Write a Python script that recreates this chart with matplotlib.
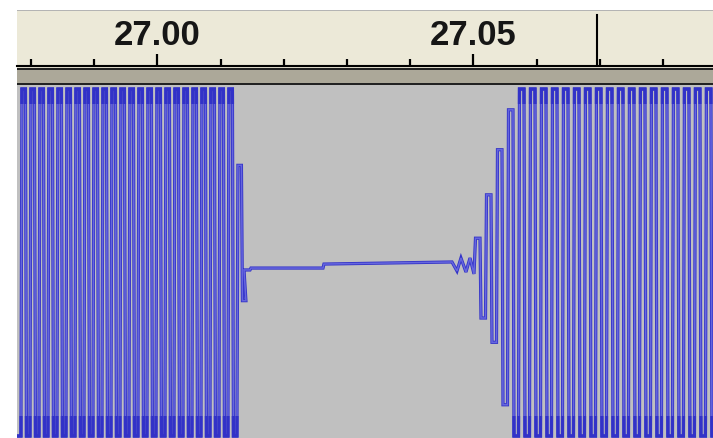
import matplotlib
matplotlib.use("Agg")
import matplotlib.pyplot as plt
import matplotlib.patheffects as pe
import matplotlib.transforms as mtransforms
from matplotlib.patches import Rectangle
from matplotlib.ticker import FixedLocator, MultipleLocator

# --- ruler ---
view_start, view_end = 26.97777, 27.08790      # seconds shown across the track
major_ticks = [27.00, 27.05]
major_labels = ["27.00", "27.05"]
minor_step = 0.01
play_pos = 27.06962

# --- waveform (normalised amplitude, clipped at +/-1) ---
# first tone: level reached by each half cycle
burst1_start = 26.97776
burst1_half = 0.000712
burst1_levels = [
    -1, 1, -1, 1, -1, 1, -1, 1, -1, 1,
    -1, 1, -1, 1, -1, 1, -1, 1, -1, 1,
    -1, 1, -1, 1, -1, 1, -1, 1, -1, 1,
    -1, 1, -1, 1, -1, 1, -1, 1, -1, 1,
    -1, 1, -1, 1, -1, 1, -1, 1, -1, 0.56,
    -0.22,
]

# quiet gap between the tones
gap_t = [27.01369, 27.01464, 27.01479, 27.02619, 27.02634, 27.04660,
         27.04739, 27.04802, 27.04881, 27.04945, 27.05008]
gap_v = [-0.043, -0.043, -0.032, -0.032, -0.009, 0.003,
         -0.049, 0.026, -0.055, 0.026, -0.066]

# second tone, ramping up into clipping
burst2_start = 27.05024
burst2_half = 0.00087
burst2_levels = [
    0.14, -0.32, 0.39, -0.46, 0.65, -0.82, 0.88,
    -1, 1, -1, 1, -1, 1, -1, 1, -1, 1,
    -1, 1, -1, 1, -1, 1, -1, 1, -1, 1,
    -1, 1, -1, 1, -1, 1, -1, 1, -1, 1,
    -1, 1, -1, 1, -1, 1, -1,
]

W, H = 713, 438
PX_PER_SEC = 6320.0
DARK_BLUE, LIGHT_BLUE = "#3232C8", "#6666DE"


def box(x0, y0, x1, y1):
    """pixel box (top-left origin) -> figure fraction rect"""
    return [x0 / W, 1 - y1 / H, (x1 - x0) / W, (y1 - y0) / H]


def strip(fig, y0, y1, color, x0=17, x1=W):
    fig.add_artist(Rectangle((x0 / W, 1 - y1 / H), (x1 - x0) / W, (y1 - y0) / H,
                             transform=fig.transFigure, color=color, lw=0))


def half_cycles(start, half, levels, edge):
    ts, vs = [], []
    for i, v in enumerate(levels):
        a = start + i * half
        ts += [a + edge, a + half - edge]
        vs += [v, v]
    return ts, vs


fig = plt.figure(figsize=(W / 100, H / 100), dpi=100)
fig.patch.set_facecolor("white")

# time ruler
ax_r = fig.add_axes(box(17, 11, 713, 66))
ax_r.set_facecolor("#ECE9D8")
ax_r.set_xlim(view_start, view_end)
ax_r.set_ylim(0, 1)
ax_r.xaxis.set_major_locator(FixedLocator(major_ticks))
ax_r.xaxis.set_minor_locator(MultipleLocator(minor_step))
ax_r.tick_params(axis="x", which="major", direction="in", length=8.5, width=1.6,
                 color="black", labelbottom=False)
ax_r.tick_params(axis="x", which="minor", direction="in", length=4.8, width=1.6,
                 color="black")
ax_r.set_yticks([])
for side in ("top", "left", "right"):
    ax_r.spines[side].set_visible(False)
ax_r.spines["bottom"].set_linewidth(1.5)
trans = mtransforms.blended_transform_factory(ax_r.transData, ax_r.transAxes)
for t, lab in zip(major_ticks, major_labels):
    ax_r.text(t, 0.38, lab, transform=trans, ha="center", va="baseline",
              fontsize=25, fontweight="bold", family="Liberation Sans",
              color="#161616")
ax_r.axvline(play_pos, ymin=0, ymax=0.93, color="black", lw=1.5)

# separators between ruler and track
strip(fig, 10, 11, "#B4B4B4")
strip(fig, 66.5, 68, "#D8D4C4")
strip(fig, 68, 70, "#222222")
strip(fig, 70, 83, "#ACA899")
strip(fig, 83, 85, "#222222")

# waveform track
ax_w = fig.add_axes(box(17, 85, 713, 438))
ax_w.set_facecolor("#C0C0C0")
ax_w.set_xlim(view_start, view_end)
centre, scale = 262.5, 173.5
ax_w.set_ylim((centre - 438) / scale, (centre - 85) / scale)
ax_w.set_xticks([])
ax_w.set_yticks([])
for s in ax_w.spines.values():
    s.set_visible(False)

edge = 0.5 / PX_PER_SEC
t1, v1 = half_cycles(burst1_start, burst1_half, burst1_levels, edge)
t2, v2 = half_cycles(burst2_start, burst2_half, burst2_levels, edge)
ts = t1 + gap_t + t2
vs = v1 + gap_v + v2
ax_w.plot(ts, vs, color=LIGHT_BLUE, lw=1.1, solid_joinstyle="miter",
          path_effects=[pe.Stroke(linewidth=2.3, foreground=DARK_BLUE), pe.Normal()])

# samples sitting at the clip level render solid dark at the top and bottom
for y0, y1 in ((85, 104), (416, 438)):
    band = Rectangle((0, (438 - y1) / 353), 1, (y1 - y0) / 353,
                     transform=ax_w.transAxes, visible=False)
    ax_w.add_patch(band)
    dark, = ax_w.plot(ts, vs, color=DARK_BLUE, lw=2.3, solid_joinstyle="miter")
    dark.set_clip_path(band)

fig.savefig("out.png", dpi=100)
